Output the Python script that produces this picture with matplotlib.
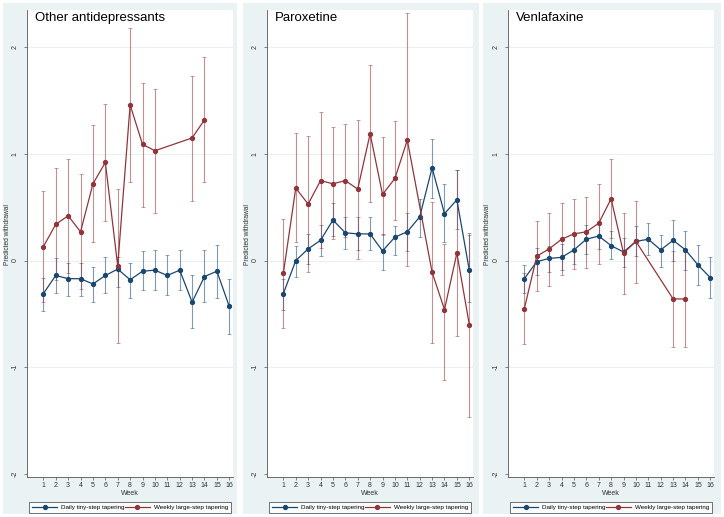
import numpy as np
import matplotlib
matplotlib.use("Agg")
import matplotlib.pyplot as plt
from matplotlib.patches import Rectangle

plt.rcParams['font.family'] = ['Liberation Sans', 'DejaVu Sans']

weeks = np.arange(1, 17)
nan = np.nan

titles = ["Other antidepressants", "Paroxetine", "Venlafaxine"]
series_names = ["Daily tiny-step tapering", "Weekly large-step tapering"]

# Other antidepressants
other_daily = [-0.31, -0.14, -0.17, -0.17, -0.22, -0.14, -0.08, -0.18, -0.10, -0.09, -0.14, -0.09, -0.39, -0.15, -0.10, -0.43]
other_daily_lo = [-0.47, -0.30, -0.33, -0.33, -0.39, -0.30, -0.25, -0.35, -0.28, -0.28, -0.32, -0.28, -0.63, -0.39, -0.35, -0.69]
other_daily_hi = [-0.16, 0.02, -0.02, -0.02, -0.06, 0.03, 0.03, -0.02, 0.09, 0.10, 0.05, 0.10, -0.14, 0.10, 0.15, -0.17]
other_weekly = [0.13, 0.34, 0.42, 0.27, 0.72, 0.92, -0.05, 1.46, 1.09, 1.03, nan, nan, 1.15, 1.32, nan, nan]
other_weekly_lo = [-0.39, -0.18, -0.12, -0.27, 0.17, 0.37, -0.77, 0.74, 0.50, 0.45, nan, nan, 0.56, 0.74, nan, nan]
other_weekly_hi = [0.65, 0.87, 0.95, 0.81, 1.27, 1.47, 0.67, 2.18, 1.67, 1.61, nan, nan, 1.73, 1.91, nan, nan]

# Paroxetine
parox_daily = [-0.31, 0.00, 0.11, 0.19, 0.38, 0.26, 0.25, 0.25, 0.09, 0.22, 0.27, 0.41, 0.87, 0.44, 0.57, -0.09]
parox_daily_lo = [-0.46, -0.15, -0.03, 0.04, 0.23, 0.11, 0.10, 0.10, -0.09, 0.05, 0.09, 0.22, 0.59, 0.17, 0.30, -0.39]
parox_daily_hi = [-0.17, 0.14, 0.25, 0.33, 0.54, 0.41, 0.41, 0.41, 0.25, 0.32, 0.45, 0.58, 1.14, 0.72, 0.85, 0.26]
parox_weekly = [-0.12, 0.68, 0.53, 0.75, 0.72, 0.75, 0.67, 1.19, 0.62, 0.77, 1.13, nan, -0.11, -0.46, 0.07, -0.60]
parox_weekly_lo = [-0.63, 0.17, -0.11, 0.12, 0.20, 0.22, 0.01, 0.55, 0.24, 0.38, -0.05, nan, -0.77, -1.12, -0.71, -1.47]
parox_weekly_hi = [0.39, 1.20, 1.17, 1.39, 1.25, 1.28, 1.32, 1.83, 1.16, 1.31, 2.32, nan, 0.55, 0.16, 0.85, 0.24]

# Venlafaxine
venla_daily = [-0.17, -0.01, 0.02, 0.03, 0.10, 0.20, 0.23, 0.14, 0.08, 0.18, 0.20, 0.10, 0.19, 0.10, -0.04, -0.16]
venla_daily_lo = [-0.30, -0.14, -0.11, -0.09, -0.03, 0.06, 0.11, 0.01, -0.06, 0.04, 0.05, -0.06, 0.00, -0.09, -0.23, -0.35]
venla_daily_hi = [-0.04, 0.12, 0.14, 0.16, 0.25, 0.33, 0.36, 0.28, 0.21, 0.32, 0.35, 0.24, 0.38, 0.28, 0.15, 0.03]
venla_weekly = [-0.45, 0.04, 0.11, 0.20, 0.25, 0.27, 0.35, 0.58, 0.07, 0.18, nan, nan, -0.36, -0.36, nan, nan]
venla_weekly_lo = [-0.78, -0.29, -0.24, -0.14, -0.08, -0.07, -0.03, 0.21, -0.31, -0.21, nan, nan, -0.81, -0.81, nan, nan]
venla_weekly_hi = [-0.12, 0.37, 0.45, 0.54, 0.58, 0.60, 0.72, 0.95, 0.45, 0.56, nan, nan, 0.09, 0.09, nan, nan]

panels = [
    (other_daily, other_daily_lo, other_daily_hi, other_weekly, other_weekly_lo, other_weekly_hi),
    (parox_daily, parox_daily_lo, parox_daily_hi, parox_weekly, parox_weekly_lo, parox_weekly_hi),
    (venla_daily, venla_daily_lo, venla_daily_hi, venla_weekly, venla_weekly_lo, venla_weekly_hi),
]

BLUE = "#1a476f"
RED = "#90353b"
BG = "#eaf2f3"

W, H = 724, 517
fig = plt.figure(figsize=(W / 100, H / 100), dpi=100)
fig.patch.set_facecolor("white")

box_x = [(3, 237), (243, 479), (483, 721)]
ax_x = [(27, 233), (267, 473), (508, 714)]
ax_top, ax_bot = 10, 477


def draw_series(ax, est, lo, hi, color, label):
    est = np.array(est, dtype=float)
    lo = np.array(lo, dtype=float)
    hi = np.array(hi, dtype=float)
    ok = ~np.isnan(est)
    ax.errorbar(weeks[ok], est[ok], yerr=[est[ok] - lo[ok], hi[ok] - est[ok]],
                fmt="none", ecolor=color, elinewidth=0.8, capsize=1.5,
                capthick=0.6, alpha=0.55, zorder=2)
    ax.plot(weeks[ok], est[ok], "-o", color=color, lw=0.9, ms=2.8,
            label=label, zorder=3)


for i, (d, dlo, dhi, w, wlo, whi) in enumerate(panels):
    bx0, bx1 = box_x[i]
    fig.patches.append(Rectangle((bx0 / W, 3 / H), (bx1 - bx0) / W, (514 - 3) / H,
                                 transform=fig.transFigure, facecolor=BG,
                                 edgecolor="none", zorder=0))
    x0, x1 = ax_x[i]
    ax = fig.add_axes([x0 / W, (H - ax_bot) / H, (x1 - x0) / W, (ax_bot - ax_top) / H])
    ax.set_facecolor("white")
    ax.set_zorder(1)

    for g in [2, 1, 0, -1]:
        ax.axhline(g, color="#e6ecec", lw=0.6, zorder=1)

    draw_series(ax, d, dlo, dhi, BLUE, series_names[0])
    draw_series(ax, w, wlo, whi, RED, series_names[1])

    ax.set_xlim(-0.32, 16.3)
    ax.set_ylim(-2.03, 2.35)
    ax.set_xticks(weeks)
    ax.set_yticks([-2, -1, 0, 1, 2])
    ax.set_yticklabels(["-2", "-1", "0", "1", "2"], rotation=90, va="center")
    ax.tick_params(axis="both", labelsize=5, length=2, width=0.5, color="#555555",
                   labelcolor="#333333")
    ax.tick_params(axis="y", pad=4)
    ax.tick_params(axis="x", pad=1.5)
    for s in ["top", "right"]:
        ax.spines[s].set_visible(False)
    for s in ["left", "bottom"]:
        ax.spines[s].set_color("#555555")
        ax.spines[s].set_linewidth(0.6)

    ax.set_xlabel("Week", fontsize=5, color="#333333", labelpad=0.5)
    ax.set_ylabel("Predicted withdrawal", fontsize=4.8, color="#333333")
    # label sits about 8 px in from the panel edge
    ax.yaxis.set_label_coords((bx0 + 8 - x0) / (x1 - x0), 0.52)

    ax.text(0.039, 0.996, titles[i], transform=ax.transAxes, fontsize=9.5,
            ha="left", va="top", color="black")

    leg = ax.legend(loc="lower left", bbox_to_anchor=(0.01, -0.078, 0.98, 0.03),
                    mode="expand", ncol=2, fontsize=4.5, frameon=True,
                    fancybox=False, handlelength=4.0, handletextpad=0.6,
                    borderpad=0.5, columnspacing=1.0, borderaxespad=0)
    leg.get_frame().set_edgecolor("#333333")
    leg.get_frame().set_linewidth(0.6)
    leg.get_frame().set_facecolor("white")

fig.savefig("out.png", dpi=100)
